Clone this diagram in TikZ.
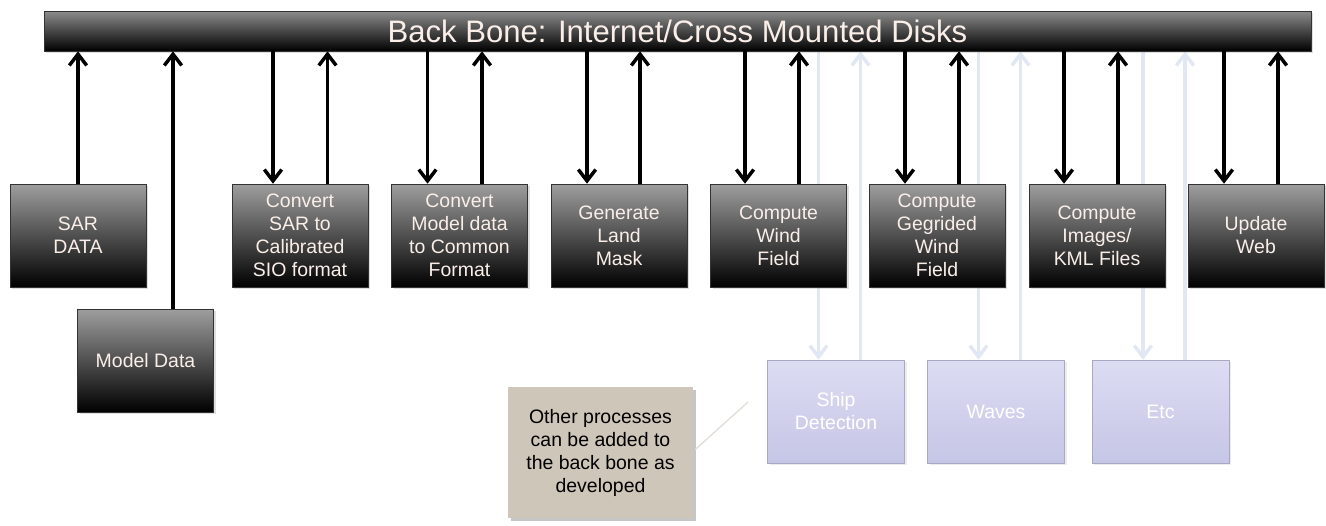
\documentclass[tikz,border=0pt]{standalone}
\usepackage{fontspec}
\setmainfont{Liberation Sans}
\usetikzlibrary{arrows.meta,shadows,calc,backgrounds}
\definecolor{boxtext}{RGB}{250,238,232}
\definecolor{lavtop}{RGB}{220,220,243}
\definecolor{lavbot}{RGB}{198,198,230}
\definecolor{ghost}{RGB}{226,232,243}
\definecolor{notefill}{RGB}{207,198,186}

\begin{document}
\begin{tikzpicture}[x=0.75pt,y=-0.75pt,
    flow/.style={draw, line width=2.6pt, -{Straight Barb[length=8.5pt,width=13pt]}},
    ghostflow/.style={flow, ghost}]
\tikzset{
        procbox/.style={draw=black!80, line width=0.4pt, top color=black!38, bottom color=black,
            minimum width=102pt, minimum height=77.25pt, align=center, text=boxtext,
            font=\fontsize{14.6pt}{17.25pt}\selectfont,
            drop shadow={opacity=0.25, shadow xshift=1.5pt, shadow yshift=-1.5pt}},
        extrabox/.style={draw=lavbot!85!black, line width=0.4pt, top color=lavtop, bottom color=lavbot,
            minimum width=102.75pt, minimum height=77.25pt, align=center, text=white,
            font=\fontsize{14.6pt}{17.25pt}\selectfont,
            drop shadow={opacity=0.15, shadow xshift=1.5pt, shadow yshift=-1.5pt}},
        bar/.style={draw=black!80, line width=0.4pt, top color=black!45, bottom color=black,
            minimum width=950.25pt, minimum height=30pt, text=boxtext,
            font=\fontsize{23.3pt}{26pt}\selectfont,
            drop shadow={opacity=0.25, shadow xshift=1.5pt, shadow yshift=-1.5pt}},
        note/.style={fill=notefill, minimum width=138.75pt, minimum height=98.25pt, align=center,
            font=\fontsize{14.6pt}{17.25pt}\selectfont,
            drop shadow={opacity=0.45, shadow xshift=2.5pt, shadow yshift=-2.5pt}},
    }
\useasboundingbox (0,0) rectangle (1326,525);

  \node[bar] (bb) at (677.5,31) {Back Bone: Internet/Cross Mounted Disks};

  \node[procbox] (sar) at (78,235.5) {SAR\\DATA};
  \node[procbox] (md) at (145.5,360.5) {Model Data};
  \node[procbox] (cs) at (300,235.5) {Convert\\SAR to\\Calibrated\\SIO format};
  \node[procbox] (cm) at (459.5,235.5) {Convert\\Model data\\to Common\\Format};
  \node[procbox] (lm) at (619,235.5) {Generate\\Land\\Mask};
  \node[procbox] (wf) at (778.5,235.5) {Compute\\Wind\\Field};
  \node[procbox] (gw) at (937,235.5) {Compute\\Gegrided\\Wind\\Field};
  \node[procbox] (im) at (1097,235.5) {Compute\\Images/\\KML Files};
  \node[procbox] (uw) at (1256,235.5) {Update\\Web};

  \node[extrabox] (sd) at (836,411.5) {Ship\\Detection};
  \node[extrabox] (wv) at (996,411.5) {Waves};
  \node[extrabox] (etc) at (1160.5,411.5) {Etc};

  \node[note] (nt) at (600.5,452.5) {Other processes\\can be added to\\the back bone as\\developed};
  \coordinate (tip) at (748,402);
  \draw[notefill!60!white, line width=1pt] ($(nt.east)+(2,-3)$) -- (tip);

  \draw[flow] (sar.north) -- (sar.north |- bb.south);
  \coordinate (md-out) at ($(md.north)+(27.5,0)$);
  \draw[flow] (md-out) -- (md-out |- bb.south);

  \foreach \n/\a/\b in {cs/-27/27.5, cm/-32/22.5, lm/-32/21, wf/-33.5/20.5, gw/-32/22, im/-33/21, uw/-32/22}{
    \coordinate (\n-in) at ($(\n.north)+(\a,0)$);
    \coordinate (\n-out) at ($(\n.north)+(\b,0)$);
    \draw[flow] (\n-in |- bb.south) -- (\n-in);
    \draw[flow] (\n-out) -- (\n-out |- bb.south);
  }

  \begin{pgfonlayer}{background}
  \foreach \n in {sd,wv,etc}{
    \coordinate (\n-in) at ($(\n.north)+(-17.5,0)$);
    \coordinate (\n-out) at ($(\n.north)+(24.5,0)$);
    \draw[ghostflow] (\n-in |- bb.south) -- (\n-in);
    \draw[ghostflow] (\n-out) -- (\n-out |- bb.south);
  }
  \end{pgfonlayer}
\end{tikzpicture}
\end{document}
